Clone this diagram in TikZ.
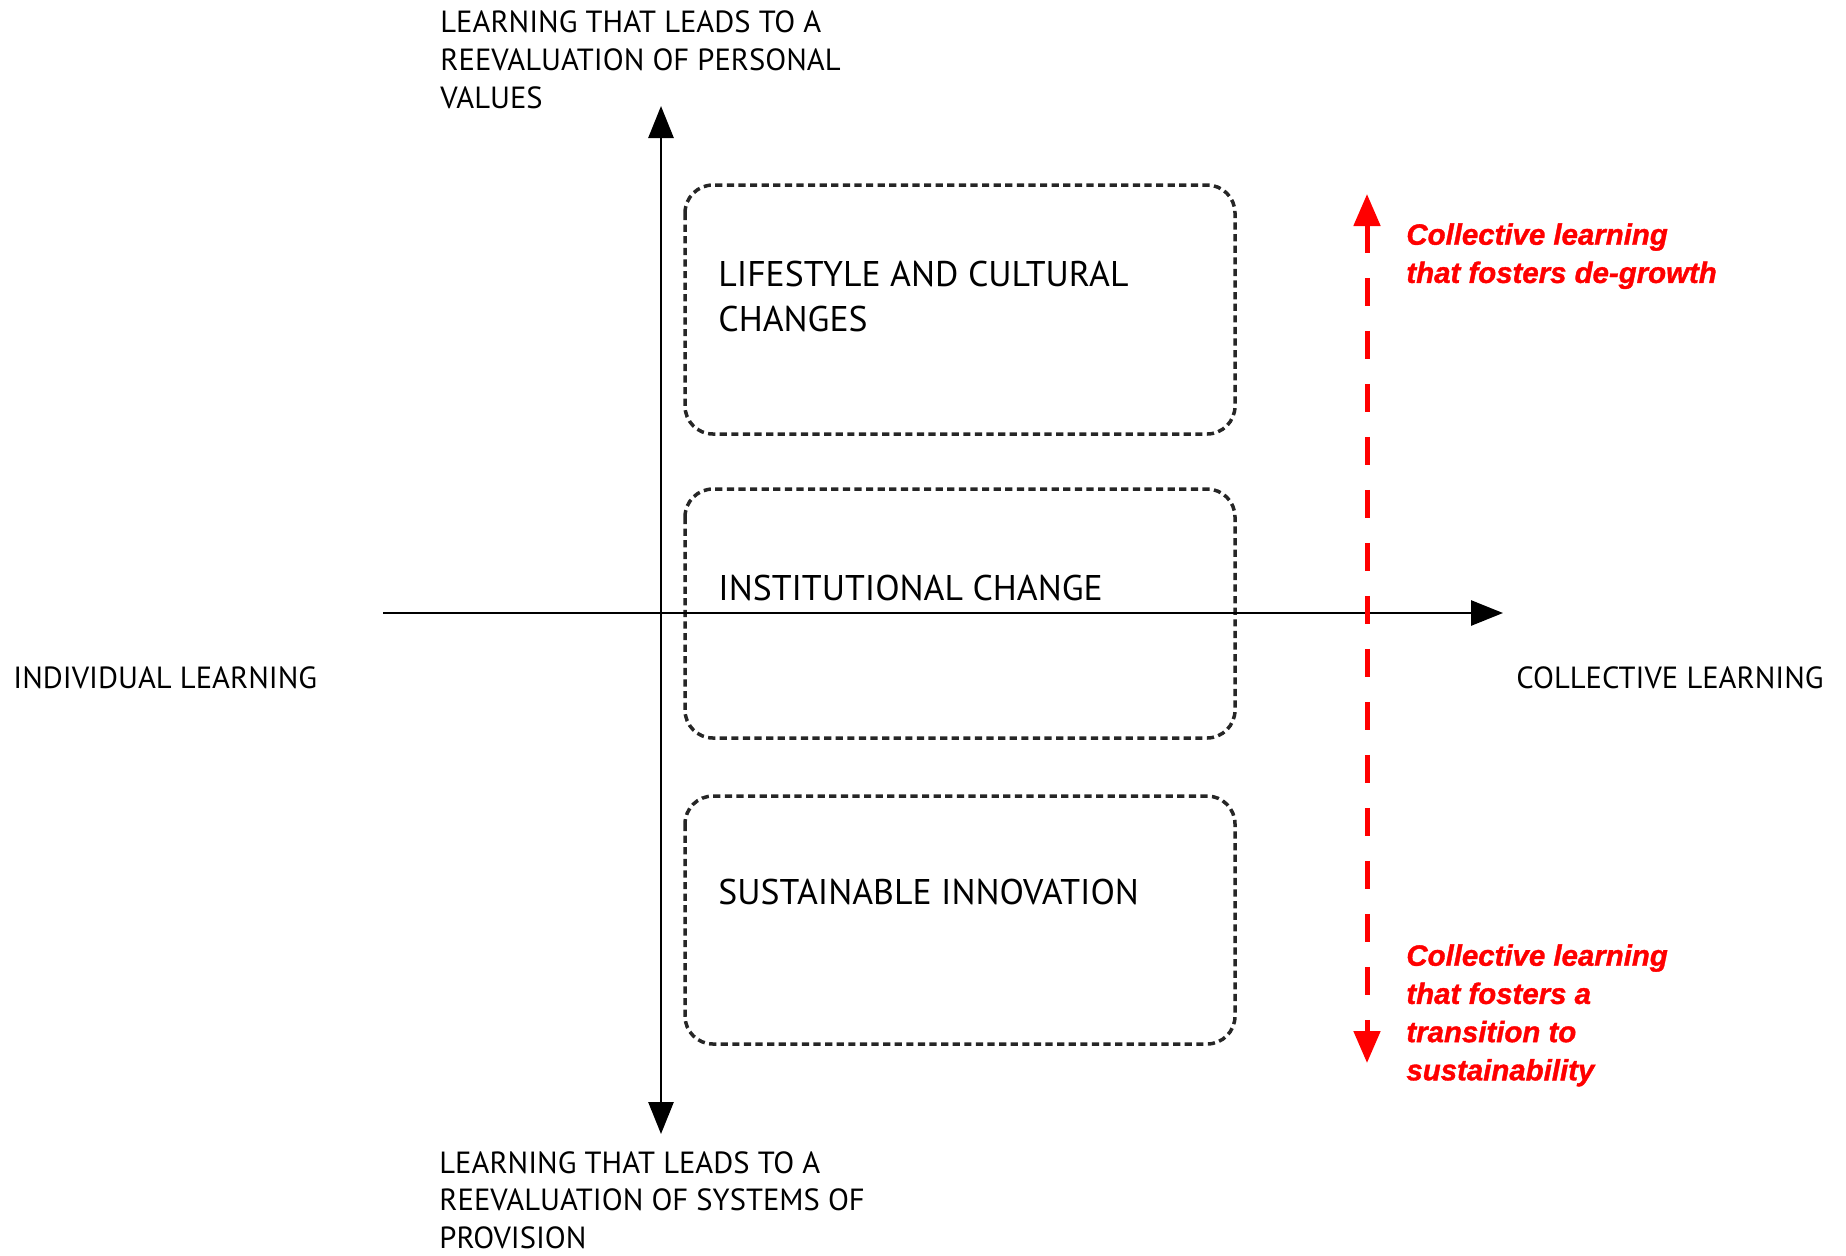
\documentclass[tikz,border=0pt]{standalone}
\usepackage{fontspec}
\setmainfont{PT Sans}
\newfontfamily\arialfont{Liberation Sans}[BoldItalicFeatures={FakeBold=1.2}]
\usetikzlibrary{arrows.meta}

\definecolor{boxgray}{HTML}{262626}
\definecolor{learnred}{HTML}{FF0000}

\tikzset{
	axistip/.tip={Triangle[length=16pt,width=12.5pt]},
	redtip/.tip={Triangle[length=16pt,width=13pt]},
	axisline/.style={line width=1.4pt, black},
	areabox/.style={boxgray, line width=1.75pt, dash pattern=on 3.6pt off 2.2pt, rounded corners=14pt},
	boxtext/.style={anchor=north west, inner sep=0pt, align=left, font=\fontsize{17.85}{22.4}\selectfont},
	axistext/.style={anchor=north west, inner sep=0pt, align=left, font=\fontsize{15.3}{19}\selectfont},
	redtext/.style={anchor=north west, inner sep=0pt, align=left, text=learnred, font=\arialfont\bfseries\itshape\fontsize{14.7}{19.1}\selectfont}
}

\begin{document}
\begin{tikzpicture}[x=0.5pt,y=-0.5pt]

	\useasboundingbox (0,0) rectangle (1846,1255);

	% the three areas
	\draw[areabox] (685,185) rectangle (1235,434);
	\draw[areabox] (685,489) rectangle (1235,738);
	\draw[areabox] (685,796) rectangle (1235,1044);

	\node[boxtext] (lifestyle) at (718,261) {LIFESTYLE AND CULTURAL\\CHANGES};
	\node[boxtext] (institution) at (718,575) {INSTITUTIONAL CHANGE};
	\node[boxtext] (innovation) at (718,879) {SUSTAINABLE INNOVATION};

	% axes
	\coordinate (vtop) at (661,106);
	\coordinate (vbot) at (661,1134);
	\coordinate (hleft) at (383,613);
	\coordinate (hright) at (1503,613);
	\draw[axisline, axistip-axistip] (vtop) -- (vbot);
	\draw[axisline, -axistip] (hleft) -- (hright);

	\node[axistext] (personal) at (440,10) {LEARNING THAT LEADS TO A\\REEVALUATION OF PERSONAL\\VALUES};
	\node[axistext, font=\fontsize{15.3}{18.7}\selectfont] (provision) at (439,1151) {LEARNING THAT LEADS TO A\\REEVALUATION OF SYSTEMS OF\\PROVISION};
	\node[axistext] (individual) at (13,666) {INDIVIDUAL LEARNING};
	\node[axistext] (collective) at (1516,666) {COLLECTIVE LEARNING};

	% red scale on the right
	\coordinate (rtop) at (1367,194);
	\coordinate (rbot) at (1367,1063);
	\draw[learnred, line width=2.5pt, dash pattern=on 14pt off 12.5pt, redtip-redtip] (rtop) -- (rbot);

	\node[redtext] (degrowth) at (1406,223) {Collective learning\\that fosters de-growth};
	\node[redtext] (transition) at (1406,944) {Collective learning\\that fosters a\\transition to\\sustainability};

\end{tikzpicture}
\end{document}
